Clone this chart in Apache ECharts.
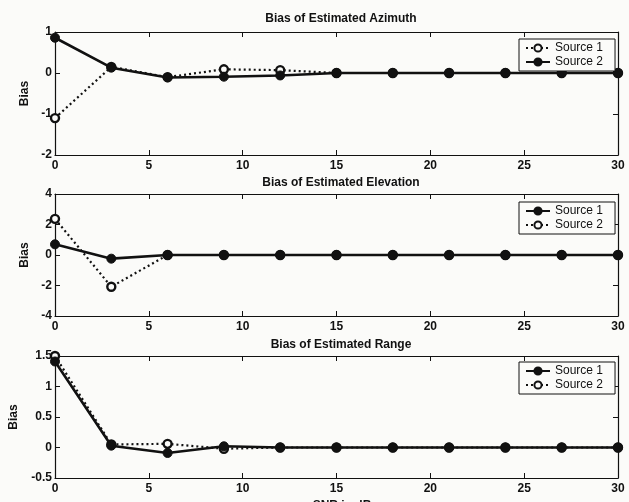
<!DOCTYPE html>
<html>
<head>
<meta charset="utf-8">
<script src="https://cdn.jsdelivr.net/npm/echarts@6/dist/echarts.min.js"></script>
<style>
  html, body { margin: 0; padding: 0; background: #fbfbf9; }
  #chart { width: 629px; height: 502px; }
</style>
</head>
<body>
<div id="chart"></div>
<script>
// SNR sweep (dB) shared by all three panels
const snr = [0, 3, 6, 9, 12, 15, 18, 21, 24, 27, 30];

// Bias of estimated azimuth
const azSource1 = [-1.1, 0.15, -0.1, 0.09, 0.07, 0.0, 0.0, 0.0, 0.0, 0.0, 0.0];
const azSource2 = [0.86, 0.13, -0.11, -0.09, -0.06, 0.0, 0.0, 0.0, 0.0, 0.0, 0.0];

// Bias of estimated elevation
const elSource1 = [0.7, -0.24, 0.0, 0.0, 0.0, 0.0, 0.0, 0.0, 0.0, 0.0, 0.0];
const elSource2 = [2.37, -2.08, 0.0, 0.0, 0.0, 0.0, 0.0, 0.0, 0.0, 0.0, 0.0];

// Bias of estimated range
const rgSource1 = [1.41, 0.03, -0.09, 0.02, 0.0, 0.0, 0.0, 0.0, 0.0, 0.0, 0.0];
const rgSource2 = [1.5, 0.05, 0.06, -0.02, 0.0, 0.0, 0.0, 0.0, 0.0, 0.0, 0.0];

const panelTitles = ['Bias of Estimated Azimuth', 'Bias of Estimated Elevation', 'Bias of Estimated Range'];
const legendNames = ['Source 1', 'Source 2'];
const yRanges = [[-2, 1, 1], [-4, 4, 2], [-0.5, 1.5, 0.5]];
const xTicks = [0, 30, 5];

const chart = echarts.init(document.getElementById('chart'), null, { renderer: 'canvas' });

const FONT = 'Liberation Sans, Arial, Helvetica, sans-serif';
const INK = '#111';
const PAPER = '#fbfbf9';

const grids = [
  { left: 55, top: 32, width: 563, height: 123, outerBoundsMode: 'none', containLabel: false },
  { left: 55, top: 194, width: 563, height: 122, outerBoundsMode: 'none', containLabel: false },
  { left: 55, top: 356, width: 563, height: 122, outerBoundsMode: 'none', containLabel: false }
];
const titleTops = [8, 172, 334];
const legendTops = [39, 202, 362];
const nameGaps = [22, 22, 35];

// Panel layout: which source is solid/filled, which is dotted/open
const panels = [
  { s1: azSource1, s2: azSource2, solid: 2 },
  { s1: elSource1, s2: elSource2, solid: 1 },
  { s1: rgSource1, s2: rgSource2, solid: 1 }
];

const xAxes = [], yAxes = [], series = [], titles = [], legends = [];

panels.forEach((p, i) => {
  const tickStyle = { show: true, inside: true, length: 5, lineStyle: { color: INK, width: 1 } };
  // bottom axis with labels
  xAxes.push({
    gridIndex: i, type: 'value', min: xTicks[0], max: xTicks[1], interval: xTicks[2],
    position: 'bottom',
    axisLine: { show: true, onZero: false, lineStyle: { color: INK, width: 1.2 } },
    axisTick: tickStyle,
    axisLabel: { color: INK, fontFamily: FONT, fontSize: 12, fontWeight: 'bold', margin: 5 },
    splitLine: { show: false }
  });
  // top box edge with inward ticks
  xAxes.push({
    gridIndex: i, type: 'value', min: xTicks[0], max: xTicks[1], interval: xTicks[2],
    position: 'top',
    axisLine: { show: true, onZero: false, lineStyle: { color: INK, width: 1.2 } },
    axisTick: tickStyle, axisLabel: { show: false }, splitLine: { show: false }
  });
  const [ymin, ymax, yint] = yRanges[i];
  yAxes.push({
    gridIndex: i, type: 'value', min: ymin, max: ymax, interval: yint,
    position: 'left',
    name: 'Bias', nameLocation: 'middle', nameGap: nameGaps[i],
    nameTextStyle: { color: INK, fontFamily: FONT, fontSize: 12, fontWeight: 'bold' },
    axisLine: { show: true, onZero: false, lineStyle: { color: INK, width: 1.2 } },
    axisTick: tickStyle,
    axisLabel: { color: INK, fontFamily: FONT, fontSize: 12, fontWeight: 'bold', margin: 3 },
    splitLine: { show: false }
  });
  yAxes.push({
    gridIndex: i, type: 'value', min: ymin, max: ymax, interval: yint,
    position: 'right',
    axisLine: { show: true, onZero: false, lineStyle: { color: INK, width: 1.2 } },
    axisTick: tickStyle, axisLabel: { show: false }, splitLine: { show: false }
  });

  const solidStyle = (name, vals) => ({
    name, type: 'line', xAxisIndex: 2 * i, yAxisIndex: 2 * i,
    data: snr.map((x, k) => [x, vals[k]]),
    symbol: 'circle', symbolSize: 9, showSymbol: true,
    lineStyle: { color: INK, width: 2.6, type: 'solid' },
    itemStyle: { color: INK, borderColor: INK, borderWidth: 1 },
    z: 3, animation: false
  });
  const dottedStyle = (name, vals) => ({
    name, type: 'line', xAxisIndex: 2 * i, yAxisIndex: 2 * i,
    data: snr.map((x, k) => [x, vals[k]]),
    symbol: 'circle', symbolSize: 8, showSymbol: true,
    lineStyle: { color: INK, width: 2.2, type: [2, 3] },
    itemStyle: { color: PAPER, borderColor: INK, borderWidth: 2.4 },
    z: 2, animation: false
  });

  const n1 = panelTitles[i] + ' | ' + legendNames[0];
  const n2 = panelTitles[i] + ' | ' + legendNames[1];
  if (p.solid === 2) {
    series.push(dottedStyle(n1, p.s1));
    series.push(solidStyle(n2, p.s2));
  } else {
    series.push(dottedStyle(n2, p.s2));
    series.push(solidStyle(n1, p.s1));
  }

  titles.push({
    text: panelTitles[i], left: 336, top: titleTops[i], textAlign: 'center',
    textStyle: { color: INK, fontFamily: FONT, fontSize: 12, fontWeight: 'bold' }
  });

  legends.push({
    data: [n1, n2], orient: 'vertical', left: 519, top: legendTops[i],
    itemWidth: 24, itemHeight: 9, itemGap: 2,
    padding: [3, 12, 3, 6],
    borderColor: INK, borderWidth: 1, backgroundColor: PAPER,
    selectedMode: false,
    formatter: (name) => name.split(' | ')[1],
    textStyle: { color: INK, fontFamily: FONT, fontSize: 12 }
  });
});

titles.push({
  text: 'SNR in dB', left: 337, top: 495, textAlign: 'center',
  textStyle: { color: INK, fontFamily: FONT, fontSize: 12, fontWeight: 'bold' }
});

chart.setOption({
  backgroundColor: PAPER,
  animation: false,
  title: titles,
  legend: legends,
  grid: grids,
  xAxis: xAxes,
  yAxis: yAxes,
  series: series
});
</script>
</body>
</html>
